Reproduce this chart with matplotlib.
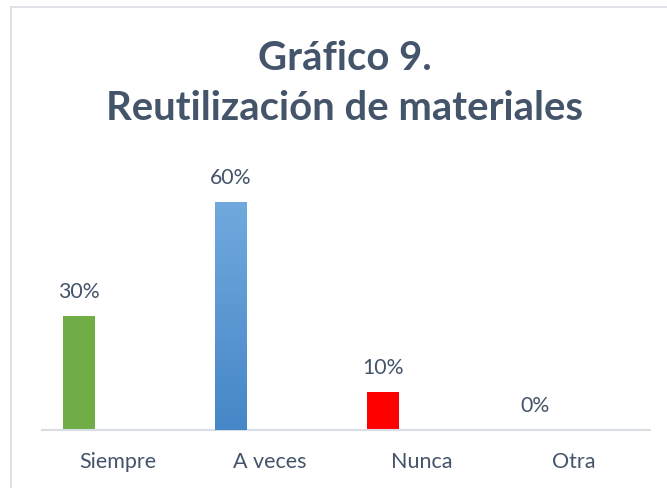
import numpy as np
import matplotlib
matplotlib.use("Agg")
import matplotlib.pyplot as plt
from matplotlib.lines import Line2D
from matplotlib.colors import LinearSegmentedColormap

# data
categories = ["Siempre", "A veces", "Nunca", "Otra"]
values = [0.30, 0.60, 0.10, 0.0]
labels = ["30%", "60%", "10%", "0%"]
colors = ["#70AD47", "#5B9BD5", "#FF0000", "#A5A5A5"]

TEXT = "#44546A"
plt.rcParams["font.family"] = ["Lato", "DejaVu Sans"]

fig = plt.figure(figsize=(6.67, 4.89), dpi=100)
ax = fig.add_axes([42 / 667, 58 / 489, 608 / 667, 266 / 489])

x = np.arange(len(categories))
offset = -0.257
width = 0.205
bars = ax.bar(x + offset, values, width=width, color=colors, zorder=2)

# gradient on the blue bar
blue = bars[1]
cmap = LinearSegmentedColormap.from_list("g", ["#4687C8", "#70A9DD"])
grad = np.linspace(0, 1, 256).reshape(-1, 1)
bx, by = blue.get_x(), blue.get_y()
im = ax.imshow(grad, cmap=cmap, origin="lower", aspect="auto",
               extent=[bx, bx + blue.get_width(), by, by + blue.get_height()], zorder=3)
im.set_clip_path(blue)

for xi, v, lab in zip(x, values, labels):
    ax.annotate(lab, (xi + offset, v), xytext=(0, 11), textcoords="offset points",
                ha="center", va="bottom", fontsize=15.3, color=TEXT)

ax.set_xlim(-0.5, 3.5)
ax.set_ylim(0, 0.7)
ax.set_xticks(x)
ax.set_xticklabels(categories, fontsize=15.5, color=TEXT)
ax.tick_params(axis="x", length=0, pad=15)
ax.set_yticks([])
for s in ["top", "right", "left"]:
    ax.spines[s].set_visible(False)
ax.spines["bottom"].set_color("#D9DEE4")
ax.spines["bottom"].set_linewidth(1.5)

fig.text(345 / 667, 1 - 58 / 489, "Gráfico 9.", ha="center", va="center",
         fontsize=28.8, fontweight="bold", color=TEXT)
fig.text(345 / 667, 1 - 108 / 489, "Reutilización de materiales", ha="center", va="center",
         fontsize=28.8, fontweight="bold", color=TEXT)

# chart border
fig.add_artist(Line2D([11 / 667, 11 / 667], [0, 1 - 8 / 489], color="#D9DEE4", lw=1.2))
fig.add_artist(Line2D([11 / 667, 1], [1 - 8 / 489, 1 - 8 / 489], color="#D9DEE4", lw=1.2))

fig.savefig("out.png", dpi=100)
